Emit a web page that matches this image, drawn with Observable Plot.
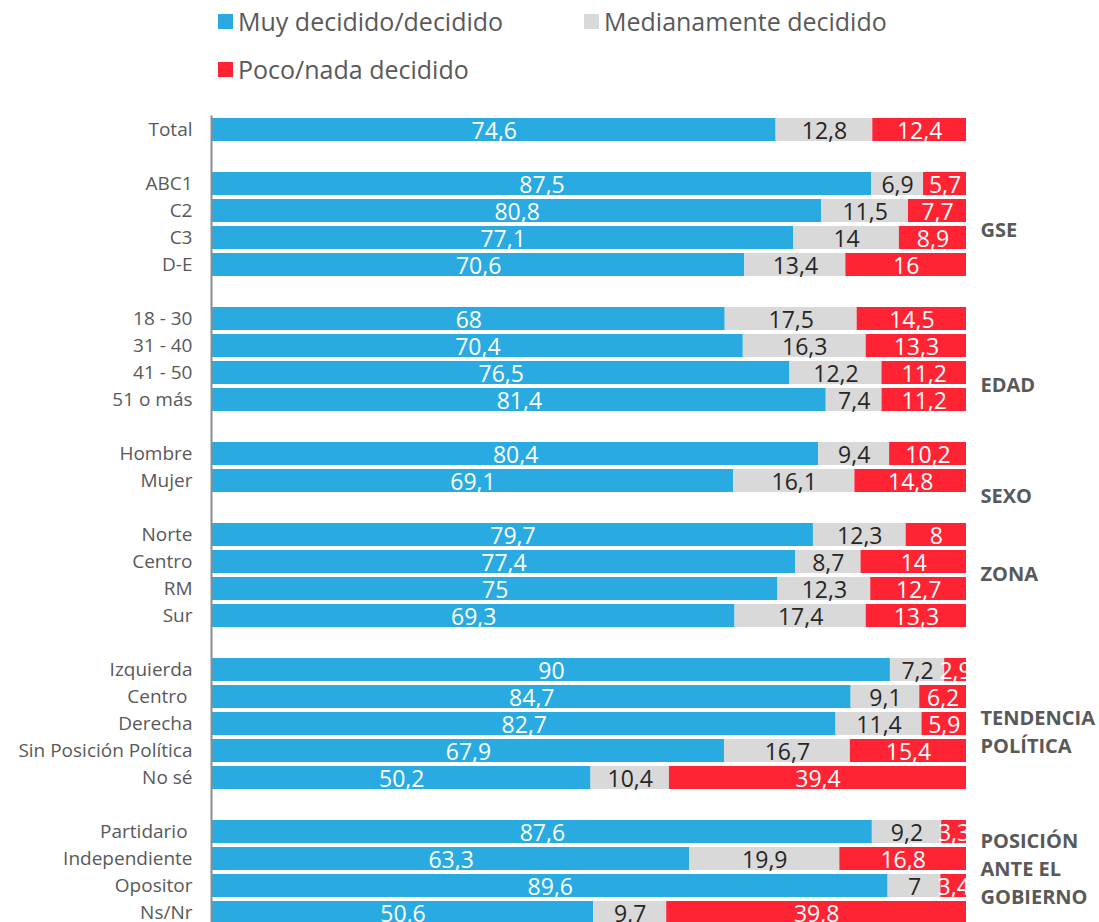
<!DOCTYPE html>
<html>
<head>
<meta charset="utf-8">
<script src="https://cdn.jsdelivr.net/npm/d3@7"></script>
<script src="https://cdn.jsdelivr.net/npm/@observablehq/plot@0.6"></script>
<style>
  body { margin: 0; background: #fff; font-family: 'Open Sans', sans-serif; }
  #legend { position: relative; height: 100px; width: 1099px; }
  .item { position: absolute; display: flex; align-items: center; font-size: 25px; color: #595959; white-space: nowrap; }
  .sw { width: 15px; height: 15px; margin-right: 5px; }
</style>
</head>
<body>
<div id="legend"></div>
<div id="chart"></div>
<script>
// ---- data ----
const series = ["Muy decidido/decidido", "Medianamente decidido", "Poco/nada decidido"];
const colors = ["#29ABE2", "#D9D9D9", "#FF2433"];

const groupNames = ["", "GSE", "EDAD", "SEXO", "ZONA", "TENDENCIA\nPOLÍTICA", "POSICIÓN\nANTE EL\nGOBIERNO"];
const catTotal = ["Total"];
const catGSE = ["ABC1", "C2", "C3", "D-E"];
const catEdad = ["18 - 30", "31 - 40", "41 - 50", "51 o más"];
const catSexo = ["Hombre", "Mujer"];
const catZona = ["Norte", "Centro", "RM", "Sur"];
const catTendencia = ["Izquierda", "Centro\u00a0", "Derecha", "Sin Posición Política", "No sé"];
const catPosicion = ["Partidario\u00a0", "Independiente", "Opositor", "Ns/Nr"];

const muyDecidido  = [74.6, 87.5, 80.8, 77.1, 70.6, 68, 70.4, 76.5, 81.4, 80.4, 69.1, 79.7, 77.4, 75, 69.3, 90, 84.7, 82.7, 67.9, 50.2, 87.6, 63.3, 89.6, 50.6];
const medianamente = [12.8, 6.9, 11.5, 14, 13.4, 17.5, 16.3, 12.2, 7.4, 9.4, 16.1, 12.3, 8.7, 12.3, 17.4, 7.2, 9.1, 11.4, 16.7, 10.4, 9.2, 19.9, 7, 9.7];
const pocoNada     = [12.4, 5.7, 7.7, 8.9, 16, 14.5, 13.3, 11.2, 11.2, 10.2, 14.8, 8, 14, 12.7, 13.3, 2.9, 6.2, 5.9, 15.4, 39.4, 3.3, 16.8, 3.4, 39.8];

// group label anchors (row in the group next to which the label sits)
const groupAnchor = [null, "C2", "41 - 50", "Mujer", "Centro", "Derecha", "Independiente"];
const groupDy = [0, 17, 10, 13, 10, 6, 8];

// ---- build rows ----
const groupCats = [catTotal, catGSE, catEdad, catSexo, catZona, catTendencia, catPosicion];
const yKeys = [];
const labelOf = {};
const rowKeys = [];
const anchorKey = {};
groupCats.forEach((cats, g) => {
  if (g > 0) { const k = "gap" + g; yKeys.push(k); labelOf[k] = ""; }
  cats.forEach(c => {
    const k = g + "|" + c;
    yKeys.push(k); labelOf[k] = c; rowKeys.push(k);
    if (groupAnchor[g] === c) anchorKey[g] = k;
  });
});
const valueArrays = [muyDecidido, medianamente, pocoNada];
const data = [];
series.forEach((s, si) => {
  rowKeys.forEach((k, i) => data.push({key: k, series: s, value: valueArrays[si][i]}));
});
const fmt = v => String(v).replace(".", ",");

// ---- legend ----
const legend = document.getElementById("legend");
const legendPos = [[218, 4], [584, 4], [218, 52]];
series.forEach((s, i) => {
  const d = document.createElement("div");
  d.className = "item";
  d.style.left = legendPos[i][0] + "px";
  d.style.top = legendPos[i][1] + "px";
  d.innerHTML = `<span class="sw" style="background:${colors[i]}"></span><span>${s}</span>`;
  legend.appendChild(d);
});

// ---- chart ----
const groupMarks = groupNames.map((name, g) => g === 0 ? null :
  Plot.text([{key: anchorKey[g], text: name}], {
    x: () => 1, y: "key", text: "text", textAnchor: "start", dx: 14, dy: groupDy[g],
    fontWeight: "bold", fontSize: 20, fill: "#595959", lineHeight: 1.4
  })).filter(Boolean);

const chart = Plot.plot({
  width: 1099,
  height: 15.5 + 810 + 10,
  marginLeft: 212,
  marginRight: 133,
  marginTop: 15.5,
  marginBottom: 10,
  style: {fontFamily: "'Open Sans', sans-serif", background: "#fff"},
  x: {domain: [0, 1], axis: null},
  y: {domain: yKeys, paddingInner: 0.15, paddingOuter: 0.075, axis: null},
  color: {domain: series, range: colors},
  marks: [
    Plot.barX(data, Plot.stackX({offset: "normalize", x: "value", y: "key", fill: "series", z: "series"})),
    Plot.text(data, Plot.stackX({
      offset: "normalize", x: "value", y: "key", z: "series",
      text: d => fmt(d.value),
      fill: d => d.series === series[1] ? "#262626" : "#ffffff",
      fontSize: 23, dy: 2, clip: true
    })),
    Plot.ruleX([0], {stroke: "#8c8c8c", strokeWidth: 2, dx: -1}),
    Plot.axisY({tickSize: 0, tickPadding: 20, tickFormat: k => labelOf[k], fontSize: 19, fill: "#595959", label: null}),
    ...groupMarks
  ]
});
document.getElementById("chart").appendChild(chart);
</script>
</body>
</html>
